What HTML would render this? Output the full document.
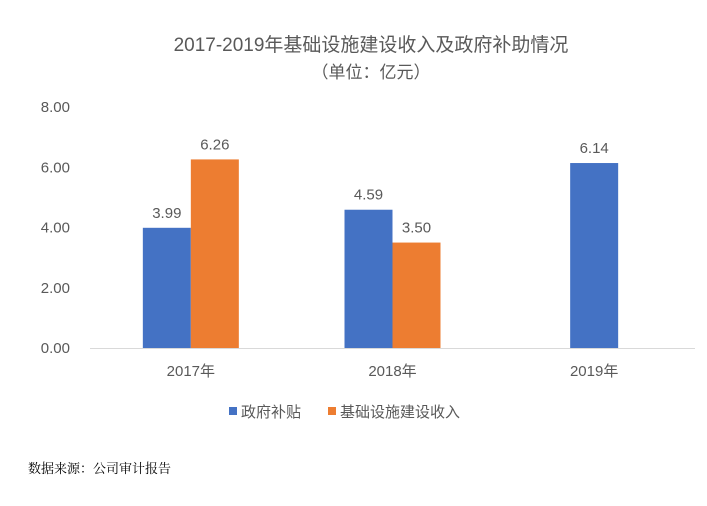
<!DOCTYPE html>
<html><head><meta charset="utf-8">
<style>
body{margin:0;background:#fff;width:707px;height:506px;overflow:hidden}
svg{display:block}
.t{font-family:"Liberation Sans","Noto Sans CJK SC",sans-serif;fill:#595959}
</style></head>
<body>
<svg id="chart" width="707" height="506">
<text class="t" x="371" y="51" text-anchor="middle" font-size="19">2017-2019年基础设施建设收入及政府补助情况</text>
<text class="t" x="371" y="78" text-anchor="middle" font-size="17">（单位：亿元）</text>
<g id="plot"></g>
<g>
<rect x="229" y="407" width="8" height="8" fill="#4472c4"/>
<text class="t" x="241" y="417" font-size="15">政府补贴</text>
<rect x="328" y="407" width="8" height="8" fill="#ed7d31"/>
<text class="t" x="340" y="417" font-size="15">基础设施建设收入</text>
</g>
<text x="28" y="473" font-size="13" fill="#000" font-family="'Liberation Serif','Noto Serif CJK SC',serif">数据来源：公司审计报告</text>
</svg>
<script>
const categories=["2017年","2018年","2019年"];
const govSubsidy=[3.99,4.59,6.14];
const infraIncome=[6.26,3.50,null];
const yTicks=[0,2,4,6,8];
const tickLabels=["0.00","2.00","4.00","6.00","8.00"];
const NS="http://www.w3.org/2000/svg";
const g=document.getElementById("plot");
const x0=90,x1=695,y0=348,yTop=107,yMax=8;
const y=v=>y0-(v/yMax)*(y0-yTop);
const band=(x1-x0)/categories.length;
const cx=i=>x0+band*(i+0.5);
function mk(tag,attrs){const e=document.createElementNS(NS,tag);for(const k in attrs)e.setAttribute(k,attrs[k]);g.appendChild(e);return e;}
yTicks.forEach((v,i)=>{
 const t=mk("text",{x:70,y:y(v)+5,"text-anchor":"end","font-size":15,class:"t"});
 t.textContent=tickLabels[i];
 
 
});
const ax=mk("line",{x1:x0,x2:x1,y1:y0+0.5,y2:y0+0.5,stroke:"#d9d9d9","stroke-width":1});


const bw=48;
function bars(arr,off,color,name){
 arr.forEach((v,i)=>{
  if(v==null)return;
  const bx=cx(i)+off;
  const r=mk("rect",{x:bx,y:y(v),width:bw,height:y0-y(v),fill:color});
  
  
  const t=mk("text",{x:bx+bw/2,y:y(v)-10,"text-anchor":"middle","font-size":15,class:"t"});
  t.textContent=v.toFixed(2);
  
  
 });
}
categories.forEach((c,i)=>{
 const t=mk("text",{x:cx(i),y:376,"text-anchor":"middle","font-size":15,class:"t"});
 t.textContent=c;
 
 
});
// 2019 has only one series, centered like reference
govSubsidy.forEach((v,i)=>{});
bars(govSubsidy.map((v,i)=>infraIncome[i]==null?null:v),-bw,"#4472c4","gov");
bars(govSubsidy.map((v,i)=>infraIncome[i]==null?v:null),-bw/2,"#4472c4","gov-solo");
bars(infraIncome,0,"#ed7d31","infra");
</script>
</body></html>
